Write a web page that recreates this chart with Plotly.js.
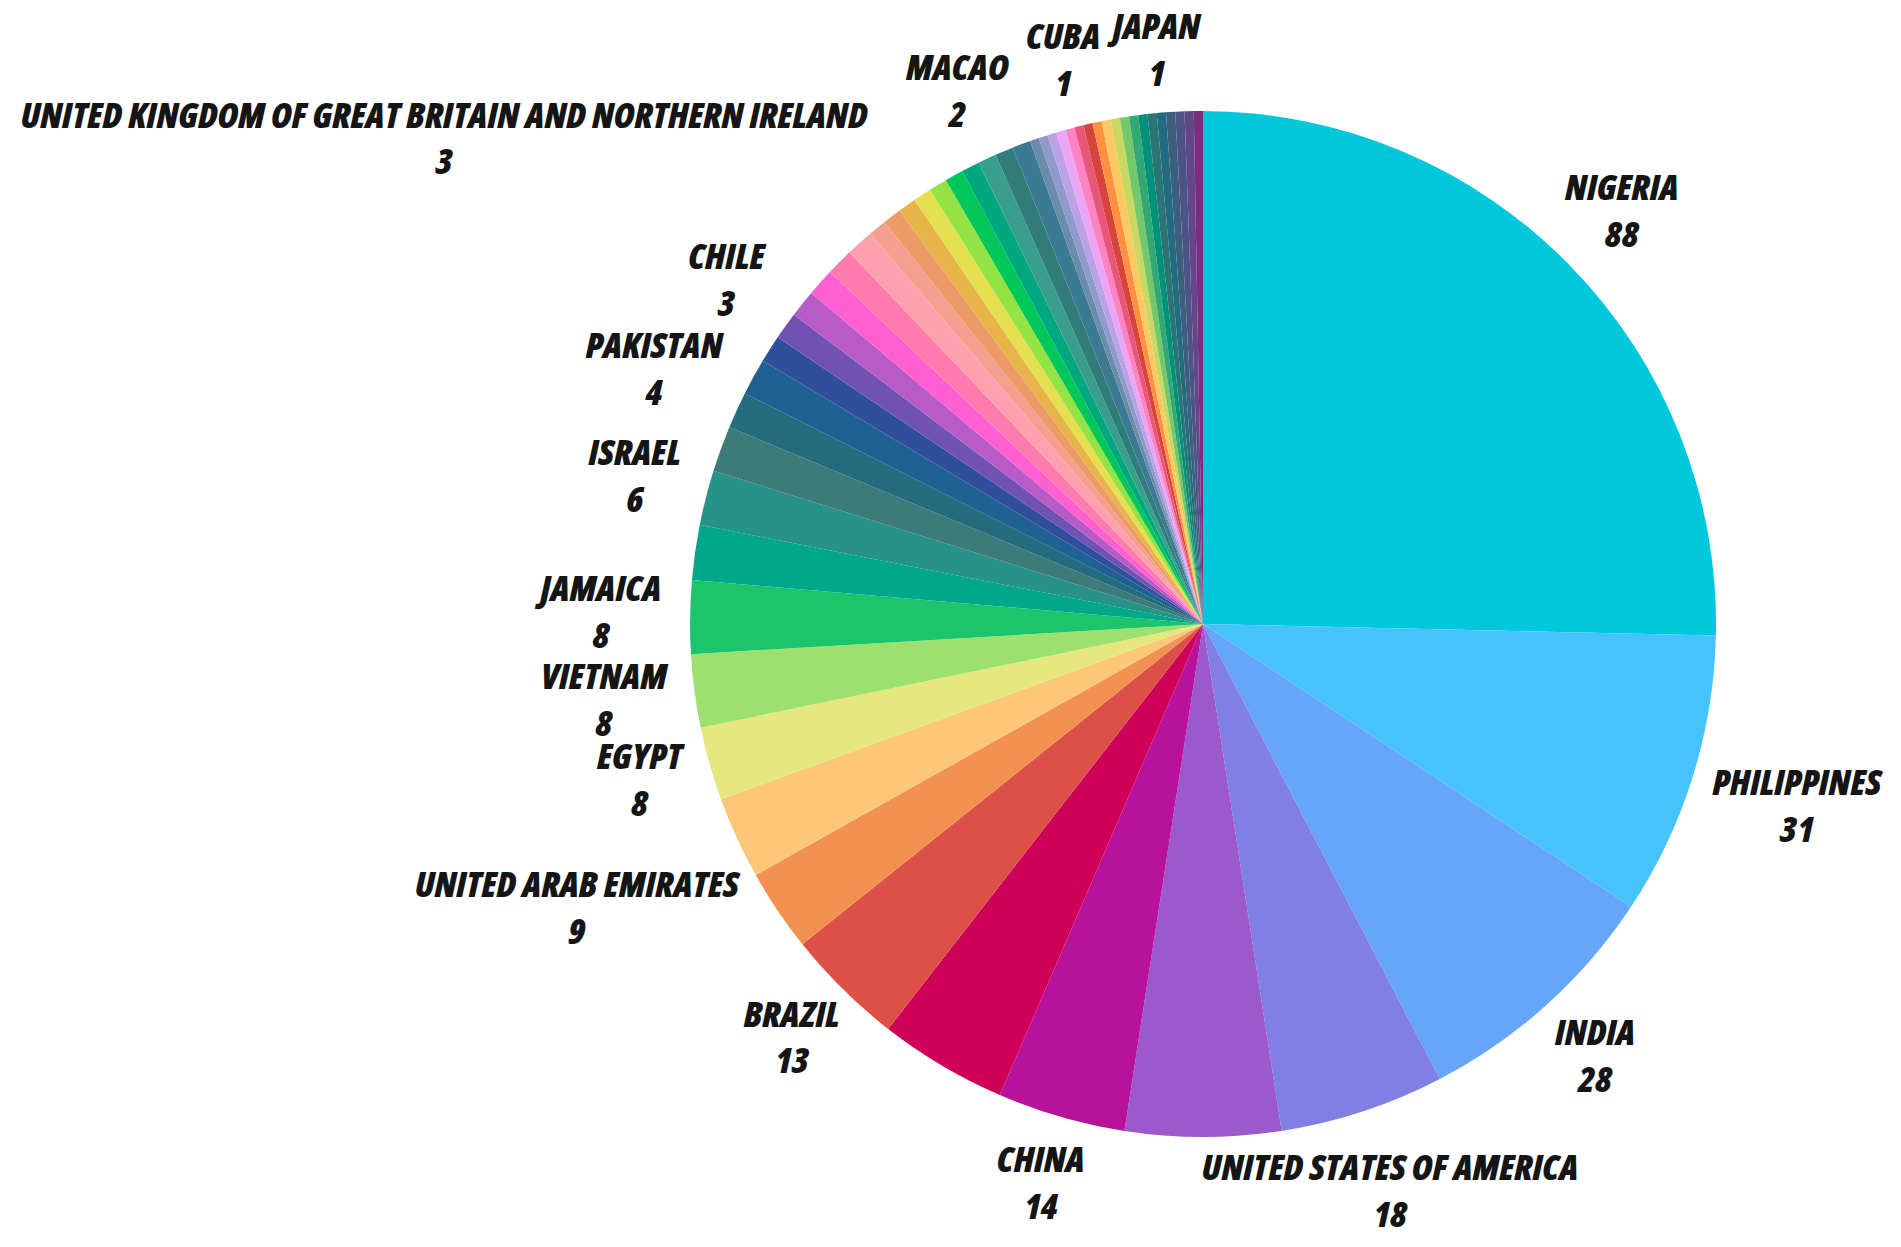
<!DOCTYPE html>
<html>
<head>
<meta charset="utf-8">
<script src="https://cdn.plot.ly/plotly-3.0.1.min.js"></script>
<style>
  html, body { margin: 0; padding: 0; background: #ffffff; }
  #chart { width: 1901px; height: 1247px; }
  svg text { font-stretch: 75%; }
</style>
</head>
<body>
<div id="chart"></div>
<script>
// Slice names shown on the chart ("" = slice drawn without a label)
const countries = [
  "NIGERIA", "PHILIPPINES", "INDIA", "UNITED STATES OF AMERICA", "", "CHINA", "", "BRAZIL",
  "", "UNITED ARAB EMIRATES", "EGYPT", "VIETNAM", "JAMAICA", "", "ISRAEL", "", "PAKISTAN", "",
  "UNITED KINGDOM OF GREAT BRITAIN AND NORTHERN IRELAND", "CHILE", "", "", "", "",
  "", "", "", "", "", "", "", "MACAO", "", "",
  "", "", "", "", "", "CUBA", "", "", "", "", "", "", "", "", "JAPAN", "", "", "", ""
];
const counts = [
  88, 31, 28, 18, 17, 14, 14, 13,
  9, 9, 8, 8, 8, 6, 6, 5, 4, 4,
  3, 3, 3, 3, 3, 3,
  2, 2, 2, 2, 2, 2, 2, 2, 2, 2,
  1, 1, 1, 1, 1, 1, 1, 1, 1, 1, 1, 1, 1, 1, 1, 1, 1, 1, 1
];
const sliceColors = [
  "#00C8DC", "#46C3FA", "#66A6F8", "#8080E4", "#9B59CB", "#B8129C", "#CE0058", "#DD5048",
  "#F39152", "#FCC877", "#E6E77C", "#9CE070", "#1CC46C", "#00A88A", "#279287", "#3D7A7A", "#236B7D", "#1E6092",
  "#2F4F9C", "#6F52B2", "#B95BC7", "#FF5FD0", "#FF7BAE", "#FFA0AF",
  "#F4A08E", "#EB9A68", "#E7B44A", "#E4E04F", "#93E345", "#00C75A", "#00A87E", "#3A9E8C", "#2F7C78", "#3B7A92",
  "#6A8CA8", "#8E9ACB", "#BBA2E6", "#EAA6F5", "#FF82C4", "#E8577A", "#D6443C", "#FF9040", "#FFC860", "#C8D860",
  "#72C86A", "#32A874", "#00917A", "#2B7575", "#236B80", "#3E5E7E", "#4B5484", "#64468A", "#7B2D7E"
];

const W = 1901, H = 1247;
const pieDomX = [0.363, 0.9027], pieDomY = [0.0882, 0.911];
const cx = (pieDomX[0] + pieDomX[1]) / 2 * W;
const cyTop = (1 - (pieDomY[0] + pieDomY[1]) / 2) * H;
const R = Math.min((pieDomX[1] - pieDomX[0]) * W, (pieDomY[1] - pieDomY[0]) * H) / 2;

const FONT_FAMILY = "'Open Sans', 'DejaVu Sans Condensed', sans-serif";
const FONT_SIZE = 36;

// measure label widths
const cnv = document.createElement("canvas").getContext("2d");
cnv.font = "italic 800 " + FONT_SIZE + "px " + FONT_FAMILY;
try { cnv.fontStretch = "condensed"; } catch (e) {}

// label positions derived from the slice angles (pixel units centred on the pie)
const total = counts.reduce((a, b) => a + b, 0);
const lx = [], ly = [], lt = [];
let cum = 0;
counts.forEach((v, i) => {
  const mid = (cum + v / 2) / total * 2 * Math.PI;
  cum += v;
  if (!countries[i]) return;
  const half = Math.max(cnv.measureText(countries[i]).width, cnv.measureText(String(v)).width) / 2;
  const s = Math.sin(mid), c = Math.cos(mid);
  const d = R * 1.134 + 4 + Math.max(0, half * Math.abs(s) - 44) - 14 * Math.pow(Math.max(0, c), 20);
  lx.push(d * s);
  ly.push(d * c);
  lt.push(countries[i] + "<br>" + v);
});

const pie = {
  type: "pie",
  values: counts,
  textinfo: "none",
  sort: false,
  direction: "clockwise",
  rotation: 0,
  marker: { colors: sliceColors, line: { width: 0 } },
  domain: { x: pieDomX, y: pieDomY },
  showlegend: false,
  hoverinfo: "value"
};

const labelsTrace = {
  type: "scatter",
  mode: "text",
  x: lx, y: ly, text: lt,
  textposition: "middle center",
  textfont: { family: FONT_FAMILY, size: FONT_SIZE, color: "#151515", weight: 800, style: "italic" },
  hoverinfo: "skip",
  showlegend: false,
  cliponaxis: false
};

const layout = {
  width: W, height: H,
  margin: { l: 0, r: 0, t: 0, b: 0 },
  paper_bgcolor: "#ffffff",
  plot_bgcolor: "rgba(0,0,0,0)",
  showlegend: false,
  xaxis: { visible: false, range: [-cx, W - cx], domain: [0, 1], fixedrange: true },
  yaxis: { visible: false, range: [-(H - cyTop), cyTop], domain: [0, 1], fixedrange: true }
};

Plotly.newPlot("chart", [pie, labelsTrace], layout, { displayModeBar: false, staticPlot: true });
</script>
</body>
</html>
